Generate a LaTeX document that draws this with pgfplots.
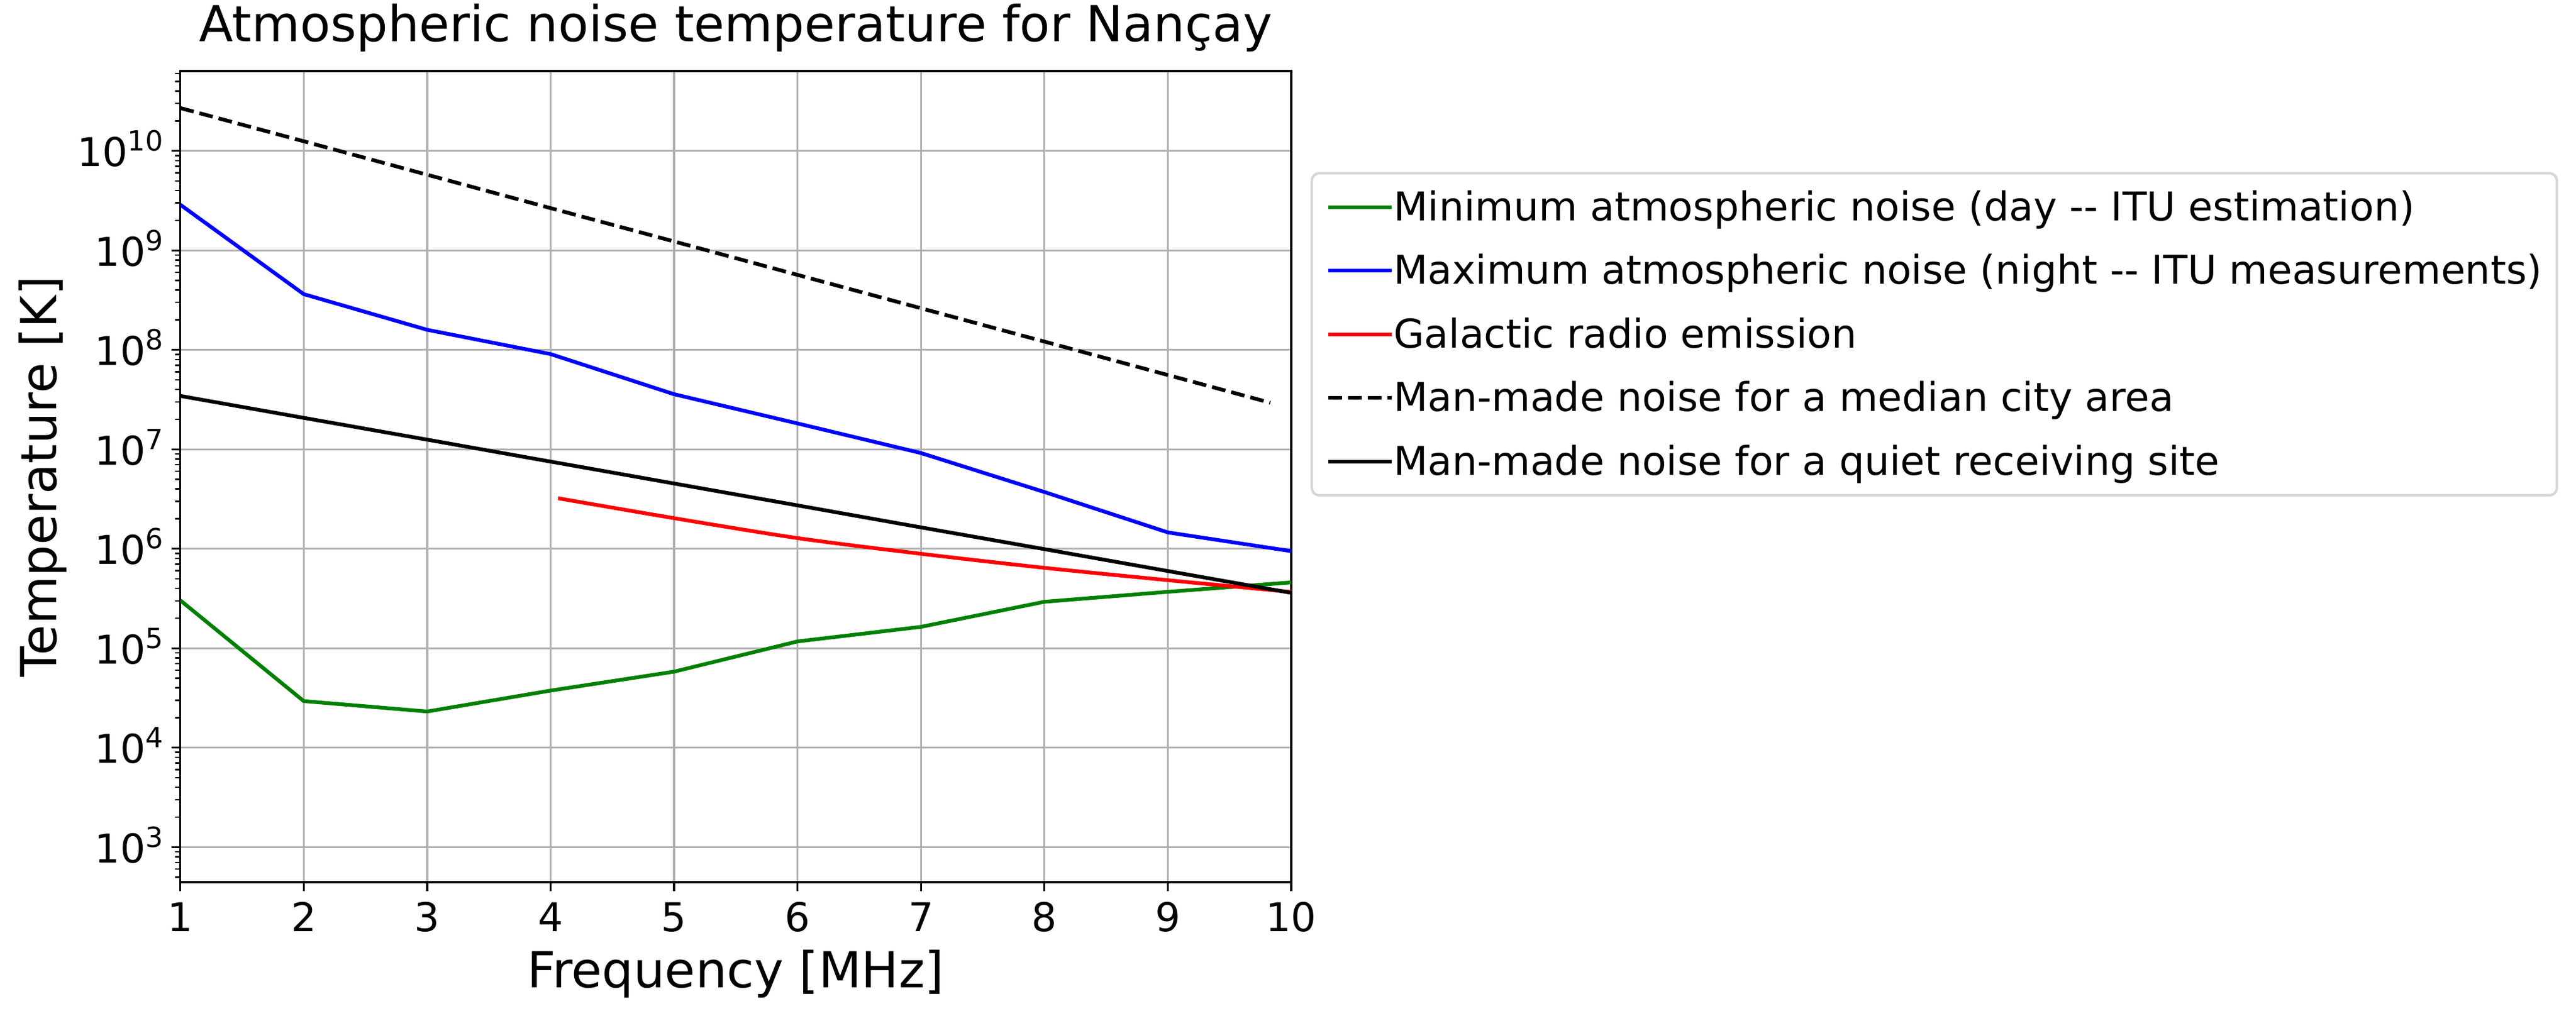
\documentclass[border=0pt]{standalone}
\usepackage{fontspec}
\setmainfont{DejaVu Sans}
\usepackage{pgfplots}
\pgfplotsset{compat=1.18}
\definecolor{gridgray}{HTML}{B0B0B0}
\definecolor{mplgreen}{HTML}{008000}
\definecolor{legframe}{HTML}{D6D6D6}
\newcommand{\tp}[1]{10\raisebox{6.24bp}{\fontsize{11.2}{11.2}\selectfont #1}}
\begin{document}
\begin{tikzpicture}
\path[use as bounding box] (-72.41bp,-53.52bp) rectangle (962.23bp,354.48bp);
\begin{axis}[
  at={(0,0)}, anchor=south west,
  scale only axis, width=446.23bp, height=325.92bp,
  xmin=1, xmax=10, ymode=log, ymin=444, ymax=6.35e10,
  xtick={1,2,3,4,5,6,7,8,9,10},
  xticklabels={1,2,3,4,5,6,7,8,9,10},
  ytick={1e3,1e4,1e5,1e6,1e7,1e8,1e9,1e10},
  yticklabels={\tp{3},\tp{4},\tp{5},\tp{6},\tp{7},\tp{8},\tp{9},\tp{10}},
  minor ytick={500,600,700,800,900,
    2e3,3e3,4e3,5e3,6e3,7e3,8e3,9e3,
    2e4,3e4,4e4,5e4,6e4,7e4,8e4,9e4,
    2e5,3e5,4e5,5e5,6e5,7e5,8e5,9e5,
    2e6,3e6,4e6,5e6,6e6,7e6,8e6,9e6,
    2e7,3e7,4e7,5e7,6e7,7e7,8e7,9e7,
    2e8,3e8,4e8,5e8,6e8,7e8,8e8,9e8,
    2e9,3e9,4e9,5e9,6e9,7e9,8e9,9e9,
    2e10,3e10,4e10,5e10,6e10},
  tick align=outside, xtick pos=left, ytick pos=left,
  major tick length=3.5bp, minor tick length=2bp,
  major tick style={black, line width=0.8bp},
  minor tick style={black, line width=0.6bp},
  grid=major, major grid style={gridgray, line width=0.8bp},
  axis line style={black, line width=0.8bp},
  xticklabel style={font=\fontsize{16}{19}\selectfont, anchor=base, inner sep=0pt, yshift=-16.25bp},
  yticklabel style={font=\fontsize{16}{19}\selectfont, anchor=base east, inner sep=0pt, xshift=-3.2bp, yshift=-6.24bp},
  title={Atmospheric noise temperature for Nançay},
  title style={font=\fontsize{20}{24}\selectfont, at={(axis description cs:0.5,1.01819)}, anchor=base, inner sep=0pt},
  xlabel={Frequency [MHz]},
  xlabel style={font=\fontsize{20}{24}\selectfont, at={(axis description cs:0.5,-0.12997)}, anchor=base, inner sep=0pt},
  ylabel={Temperature [K]},
  ylabel style={font=\fontsize{20}{24}\selectfont, at={(axis description cs:-0.11171,0.5)}, anchor=base, rotate=0, inner sep=0pt},
  legend cell align=left,
  legend style={
    at={(1.01737,0.87555)}, anchor=north west,
    draw=legframe, line width=1bp, rounded corners=3bp, fill=white,
    inner xsep=5.9bp, inner ysep=0.8bp,
    font=\fontsize{16}{19}\selectfont,
    row sep=0pt, column sep=0bp,
    nodes={inner sep=0pt, text height=18.2bp, text depth=7.36bp},
  },
  legend image code/.code={\draw[#1, line width=1.5bp] (0bp,0bp) -- (25.5bp,0bp);},
]
\addplot[mplgreen, line width=1.5bp, line join=round] coordinates {
  (1,3.03e5) (2,2.94e4) (3,2.31e4) (4,3.75e4) (5,5.81e4)
  (6,1.17e5) (7,1.64e5) (8,2.93e5) (9,3.69e5) (10,4.59e5)};
\addlegendentry{Minimum atmospheric noise (day -{}- ITU estimation)}
\addplot[blue, line width=1.5bp, line join=round] coordinates {
  (1,2.88e9) (2,3.63e8) (3,1.59e8) (4,9.06e7) (5,3.58e7)
  (6,1.82e7) (7,9.17e6) (8,3.72e6) (9,1.46e6) (10,9.46e5)};
\addlegendentry{Maximum atmospheric noise (night -{}- ITU measurements)}
\addplot[red, line width=1.5bp, smooth] coordinates {
  (4.06,3.22e6) (5,2.03e6) (6,1.28e6) (7,8.9e5) (8,6.43e5) (9,4.83e5) (10,3.68e5)};
\addlegendentry{Galactic radio emission}
\addplot[black, line width=1.5bp, dash pattern=on 5.55bp off 2.4bp] coordinates {
  (1,2.70e10) (2,1.25e10) (3,5.76e9) (4,2.66e9) (5,1.23e9)
  (6,5.67e8) (7,2.62e8) (8,1.21e8) (9,5.58e7) (9.83,2.94e7)};
\addlegendentry{Man-made noise for a median city area}
\addplot[black, line width=1.5bp] coordinates {
  (1,3.44e7) (2,2.07e7) (3,1.25e7) (4,7.52e6) (5,4.53e6)
  (6,2.73e6) (7,1.64e6) (8,9.91e5) (9,5.97e5) (10,3.60e5)};
\addlegendentry{Man-made noise for a quiet receiving site}
\end{axis}
\end{tikzpicture}
\end{document}
